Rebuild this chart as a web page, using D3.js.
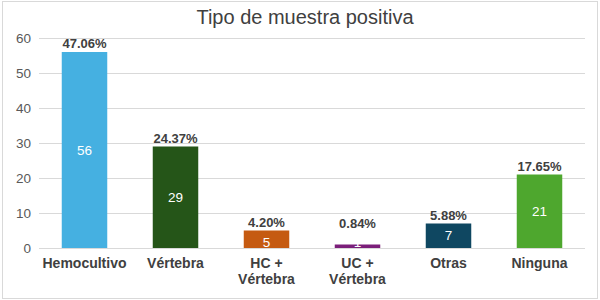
<!DOCTYPE html>
<html><head><meta charset="utf-8">
<script src="https://cdn.jsdelivr.net/npm/d3@7"></script>
<style>body{margin:0;background:#fff}svg{display:block;font-family:Arial,"Liberation Sans",sans-serif}</style>
</head><body><svg id="c" width="600" height="300"></svg>
<script>
const categories = ["Hemocultivo", "Vértebra", "HC +\nVértebra", "UC +\nVértebra", "Otras", "Ninguna"];
const values = [56, 29, 5, 1, 7, 21];
const percents = ["47.06%", "24.37%", "4.20%", "0.84%", "5.88%", "17.65%"];
const colors = ["#45b0e1", "#255518", "#c55a11", "#7b1f7a", "#0f4761", "#4ea72e"];
const yTicks = [0, 10, 20, 30, 40, 50, 60];
const title = "Tipo de muestra positiva";

const svg = d3.select("#c");
svg.append("rect").attr("x",2.5).attr("y",1.5).attr("width",595).attr("height",297)
  .attr("fill","#fff").attr("stroke","#d9d9d9");

const m = {left:39, right:15, top:38, bottom:52};
const x = d3.scaleBand().domain(categories).range([m.left, 600-m.right]).paddingInner(0.5).paddingOuter(0.25);
const y = d3.scaleLinear().domain([0,60]).range([300-m.bottom, m.top]);

svg.append("text").attr("x",305).attr("y",24).attr("text-anchor","middle")
  .attr("font-size",20).attr("fill","#404040").text(title);

const ya = svg.append("g").attr("transform",`translate(${m.left},0)`)
  .call(d3.axisLeft(y).tickValues(yTicks).tickSize(-(600-m.right-m.left)).tickPadding(8));
ya.select(".domain").remove();
ya.selectAll("line").attr("stroke","#d9d9d9");
ya.selectAll("text").attr("font-size",13.5).attr("fill","#595959").attr("font-family","Arial,'Liberation Sans',sans-serif");

svg.selectAll("rect.bar").data(values).join("rect").attr("class","bar")
  .attr("x",(d,i)=>x(categories[i])).attr("width",x.bandwidth())
  .attr("y",d=>y(d)).attr("height",d=>y(0)-y(d))
  .attr("fill",(d,i)=>colors[i]);

svg.selectAll("text.val").data(values).join("text").attr("class","val")
  .attr("x",(d,i)=>x(categories[i])+x.bandwidth()/2)
  .attr("y",d=>(y(0)-y(d)) < 20 ? y(0)-6 : (y(d)+y(0))/2).attr("dy","0.35em")
  .attr("text-anchor","middle").attr("font-size",13.5).attr("fill","#fff").text(d=>d);

svg.selectAll("text.pct").data(values).join("text").attr("class","pct")
  .attr("x",(d,i)=>x(categories[i])+x.bandwidth()/2)
  .attr("y",d=>Math.min(y(d), y(4.6))-4)
  .attr("text-anchor","middle").attr("font-size",13).attr("font-weight","bold").attr("fill","#404040")
  .text((d,i)=>percents[i]);

const xl = svg.selectAll("text.cat").data(categories).join("text").attr("class","cat")
  .attr("x",d=>x(d)+x.bandwidth()/2).attr("y",268)
  .attr("text-anchor","middle").attr("font-size",14).attr("font-weight","bold").attr("fill","#404040");
xl.each(function(d){
  const lines=d.split("\n"); const t=d3.select(this);
  lines.forEach((l,k)=>t.append("tspan").attr("x",x(d)+x.bandwidth()/2)
    .attr("dy", k===0 ? 0 : 16).text(l));
});
</script></body></html>
